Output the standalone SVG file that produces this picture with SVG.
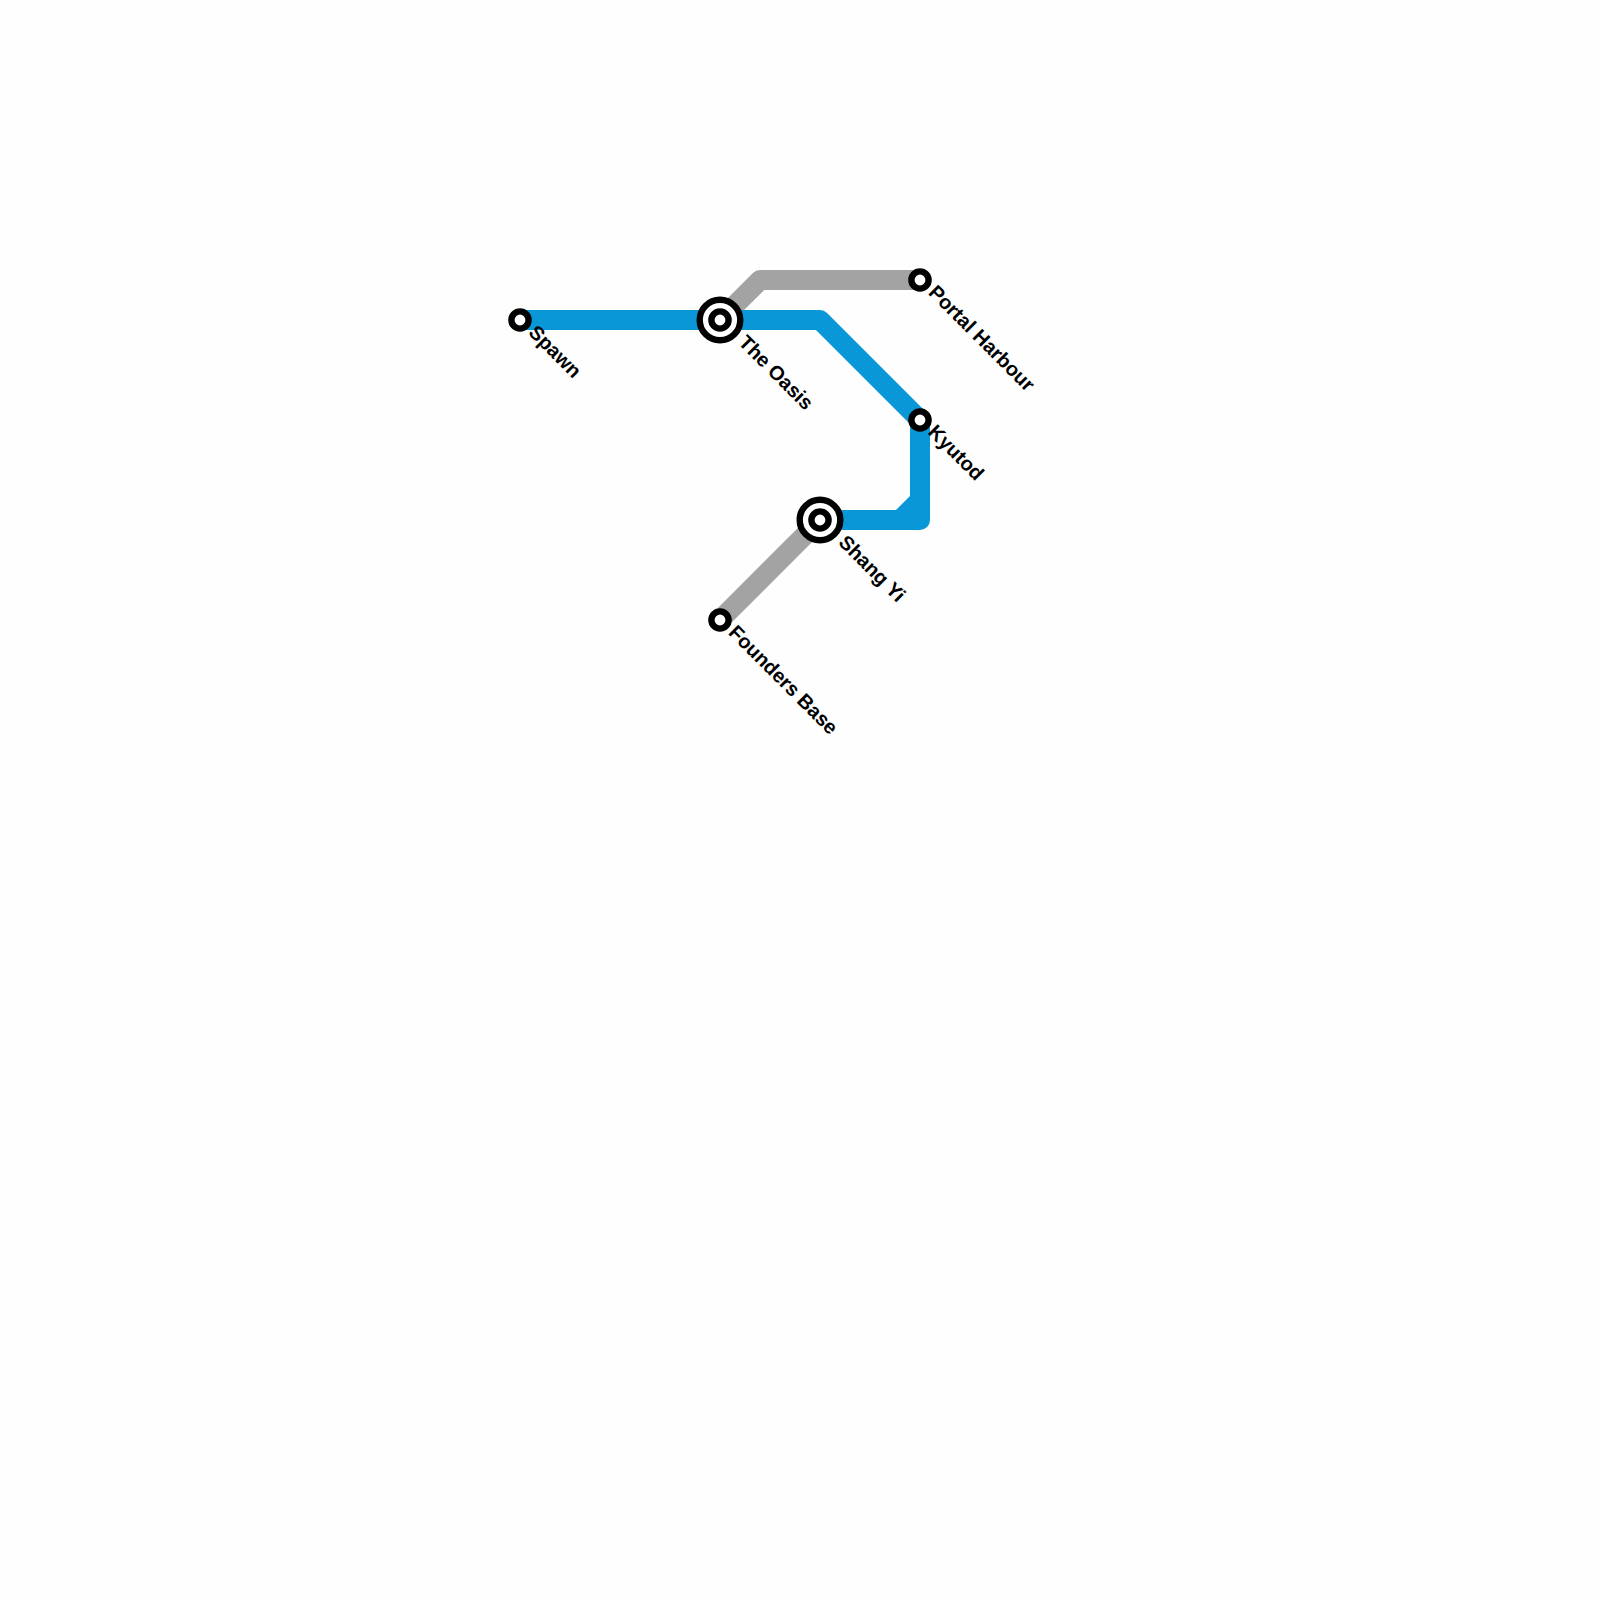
<svg xmlns="http://www.w3.org/2000/svg" width="1600" height="1600" viewBox="0 0 1600 1600">
<style>
.line{fill:none;stroke-width:20;stroke-linejoin:round;stroke-linecap:butt}
.blue{stroke:#0997d8}
.gray{stroke:#a3a3a3}
.ring{fill:#fff;stroke:#000;stroke-width:6.4}
.outer{fill:#fff;stroke:#000;stroke-width:6.4}
text{font-family:"Liberation Sans",Arial,sans-serif;font-size:20px;font-weight:700;fill:#000;text-rendering:geometricPrecision}
</style>
<rect width="1600" height="1600" fill="#fefefe"/>
<g id="connectors">
<path class="line gray" d="M920 280H760L720 320"/>
<path class="line gray" d="M720 620L820 520"/>
<path class="line blue" d="M520 320H820L920 420V520H820"/>
<polygon points="911,495 895,511 915,515" fill="#0997d8"/>
</g>
<g id="spawn"><circle class="ring" cx="520" cy="320" r="8.6"/><text transform="translate(527.5 333.5) rotate(45)">Spawn</text></g>
<g id="the-oasis"><circle class="outer" cx="720" cy="320" r="20.3"/><circle class="ring" cx="720" cy="320" r="8.6"/><text transform="translate(737.5 343.5) rotate(45)">The Oasis</text></g>
<g id="portal-harbour"><circle class="ring" cx="920" cy="280" r="8.6"/><text transform="translate(927.5 293.5) rotate(45)">Portal Harbour</text></g>
<g id="kyutod"><circle class="ring" cx="920" cy="420" r="8.6"/><text transform="translate(927 433) rotate(45)">Kyutod</text></g>
<g id="shang-yi"><circle class="outer" cx="820" cy="520" r="20.3"/><circle class="ring" cx="820" cy="520" r="8.6"/><text transform="translate(837.5 543.5) rotate(45)">Shang Yi</text></g>
<g id="founders-base"><circle class="ring" cx="720" cy="620" r="8.6"/><text transform="translate(727.5 633.5) rotate(45)">Founders Base</text></g>
</svg>
